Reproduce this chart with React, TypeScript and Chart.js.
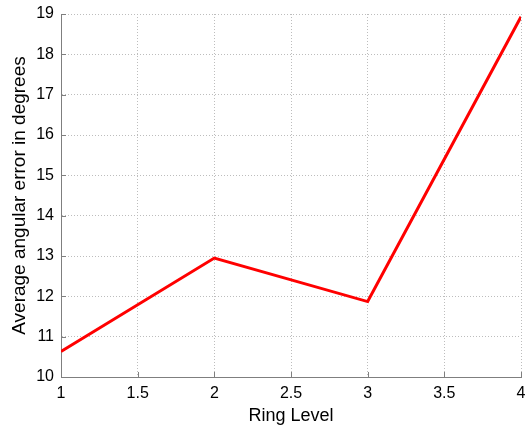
import React, { useEffect, useRef } from "react";
import { Chart, registerables } from "chart.js";

Chart.register(...registerables);

const ringLevels = [1, 2, 3, 4];
const avgError = [10.63, 12.95, 11.87, 18.93];
const xTicks = [1, 1.5, 2, 2.5, 3, 3.5, 4];
const yTicks = [10, 11, 12, 13, 14, 15, 16, 17, 18, 19];

const FONT = "'Liberation Sans', Arial, Helvetica, sans-serif";

const inwardTicks = {
  id: "inwardTicks",
  afterDraw(chart: any) {
    const ctx = chart.ctx;
    const x = chart.scales.x;
    const y = chart.scales.y;
    const a = chart.chartArea;
    ctx.save();
    ctx.strokeStyle = "#7f7f7f";
    ctx.lineWidth = 1;
    ctx.beginPath();
    xTicks.forEach((v) => {
      const px = Math.round(x.getPixelForValue(v)) + 0.5;
      ctx.moveTo(px, a.bottom);
      ctx.lineTo(px, a.bottom - 5);
    });
    yTicks.forEach((v) => {
      const py = Math.round(y.getPixelForValue(v)) + 0.5;
      ctx.moveTo(a.left, py);
      ctx.lineTo(a.left + 5, py);
    });
    ctx.stroke();
    ctx.restore();
  },
};

export default function App() {
  const ref = useRef<HTMLCanvasElement>(null);
  useEffect(() => {
    document.body.style.margin = "0";
    const chart = new Chart(ref.current!, {
      type: "line",
      data: {
        datasets: [
          {
            data: ringLevels.map((r, i) => ({ x: r, y: avgError[i] })),
            borderColor: "#ff0000",
            borderWidth: 3,
            pointRadius: 0,
            tension: 0,
            fill: false,
          },
        ],
      },
      options: {
        responsive: false,
        animation: false,
        layout: { padding: { left: 0, top: 14, right: 9, bottom: 0 } },
        plugins: { legend: { display: false }, tooltip: { enabled: false } },
        scales: {
          x: {
            type: "linear",
            min: 1,
            max: 4,
            afterBuildTicks: (s: any) => {
              s.ticks = xTicks.map((v) => ({ value: v }));
            },
            afterFit: (s: any) => {
              s.height = 50;
              s.paddingRight = 0;
              s.paddingLeft = 0;
            },
            grid: { color: "#bdbdbd", drawTicks: false, lineWidth: 1 },
            border: { display: true, color: "#7f7f7f", dash: [1, 2], width: 1 },
            ticks: {
              padding: 7,
              color: "#000",
              font: { family: FONT, size: 16 },
              maxRotation: 0,
              callback: (v: any) => String(v),
            },
            title: {
              display: true,
              text: "Ring Level",
              color: "#000",
              font: { family: FONT, size: 18 },
              padding: { top: 0, bottom: 0 },
            },
          },
          y: {
            type: "linear",
            min: 10,
            max: 19,
            afterBuildTicks: (s: any) => {
              s.ticks = yTicks.map((v) => ({ value: v }));
            },
            afterFit: (s: any) => {
              s.width = 61;
              s.paddingTop = 0;
              s.paddingBottom = 0;
            },
            grid: { color: "#bdbdbd", drawTicks: false, lineWidth: 1 },
            border: { display: true, color: "#7f7f7f", dash: [1, 2], width: 1 },
            ticks: {
              padding: 7,
              color: "#000",
              font: { family: FONT, size: 16 },
              callback: (v: any) => String(v),
            },
            title: {
              display: true,
              text: "Average angular error in degrees",
              color: "#000",
              font: { family: FONT, size: 19 },
              padding: { top: 8, bottom: 0 },
            },
          },
        },
      },
      plugins: [inwardTicks],
    });
    return () => chart.destroy();
  }, []);
  return (
    <div style={{ width: 530, height: 427 }}>
      <canvas ref={ref} width={530} height={427} />
    </div>
  );
}
